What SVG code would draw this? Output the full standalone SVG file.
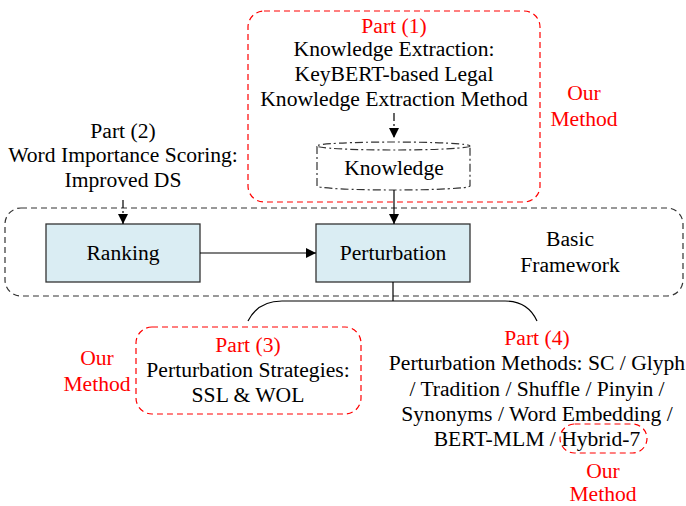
<svg xmlns="http://www.w3.org/2000/svg" width="686" height="506" viewBox="0 0 686 506">
<defs>
<style>
text{font-family:'Liberation Serif','Times New Roman',serif;font-size:21.6px;fill:#000;text-anchor:middle}
.red{fill:#ff0000}
.rbox{fill:none;stroke:#ff0000;stroke-width:1.2;stroke-dasharray:6 4}
.kbox{fill:none;stroke:#333;stroke-width:1.2;stroke-dasharray:6 4}
.node{fill:#daedf3;stroke:#333;stroke-width:1.3}
.line{fill:none;stroke:#000;stroke-width:1.2}
</style>
<marker id="ah" viewBox="0 0 10 10" refX="10" refY="5" markerWidth="10" markerHeight="10" markerUnits="userSpaceOnUse" orient="auto">
<path d="M0,0 L10,5 L0,10 Z" fill="#000"/>
</marker>
</defs>
<rect width="686" height="506" fill="#fff"/>

<g id="framework">
<rect class="kbox" x="5" y="208" width="678" height="88" rx="16"/>
<text x="570" y="246">Basic</text>
<text x="570" y="272">Framework</text>
</g>

<g id="part1">
<rect class="rbox" x="248" y="11" width="292" height="191" rx="16"/>
<text class="red" x="394" y="33">Part (1)</text>
<text x="394" y="56">Knowledge Extraction:</text>
<text x="394" y="81">KeyBERT-based Legal</text>
<text x="394" y="106">Knowledge Extraction Method</text>
</g>

<g id="knowledge">
<path d="M317,146 L317,186 A76.5,4 0 0 0 470,186 L470,146" fill="#fff" stroke="#333" stroke-width="1.2" stroke-dasharray="8 3 2 3"/>
<ellipse cx="393.5" cy="146" rx="76.5" ry="4" fill="#fff" stroke="#333" stroke-width="1.2" stroke-dasharray="8 3 2 3"/>
<text x="394" y="175">Knowledge</text>
</g>

<g id="our-method-1">
<text class="red" x="584" y="100">Our</text>
<text class="red" x="584" y="126">Method</text>
</g>

<g id="part2">
<text x="123" y="138">Part (2)</text>
<text x="123" y="162">Word Importance Scoring:</text>
<text x="123" y="187">Improved DS</text>
</g>

<g id="ranking">
<rect class="node" x="46" y="224" width="154" height="58"/>
<text x="123" y="260">Ranking</text>
</g>

<g id="perturbation">
<rect class="node" x="316" y="224" width="154" height="58"/>
<text x="393" y="260">Perturbation</text>
</g>

<g id="part3">
<rect class="rbox" x="136" y="327" width="225" height="87" rx="16"/>
<text class="red" x="248" y="352">Part (3)</text>
<text x="248" y="377">Perturbation Strategies:</text>
<text x="248" y="402">SSL &amp; WOL</text>
</g>

<g id="our-method-3">
<text class="red" x="97" y="365">Our</text>
<text class="red" x="97" y="391">Method</text>
</g>

<g id="part4">
<text class="red" x="537" y="345">Part (4)</text>
<text x="537" y="370">Perturbation Methods: SC / Glyph</text>
<text x="537" y="396">/ Tradition / Shuffle / Pinyin /</text>
<text x="537" y="421">Synonyms / Word Embedding /</text>
<text x="537" y="446">BERT-MLM / Hybrid-7</text>
<rect class="rbox" x="560" y="424" width="87" height="29" rx="14.5"/>
</g>

<g id="our-method-4">
<text class="red" x="603" y="478">Our</text>
<text class="red" x="603" y="501">Method</text>
</g>

<g id="connectors">
<path class="line" d="M394,113 L394,138" stroke-dasharray="8 3 2 3" marker-end="url(#ah)"/>
<path class="line" d="M394,190 L394,224" marker-end="url(#ah)"/>
<path class="line" d="M123,200 L123,224" stroke-dasharray="8 3 2 3" marker-end="url(#ah)"/>
<path class="line" d="M200,253 L316,253" marker-end="url(#ah)"/>
<path class="line" d="M393,282 L393,301"/>
<path class="line" d="M248,321 Q258,301 282,301 L505,301 Q528,301 537,321"/>
</g>
</svg>
